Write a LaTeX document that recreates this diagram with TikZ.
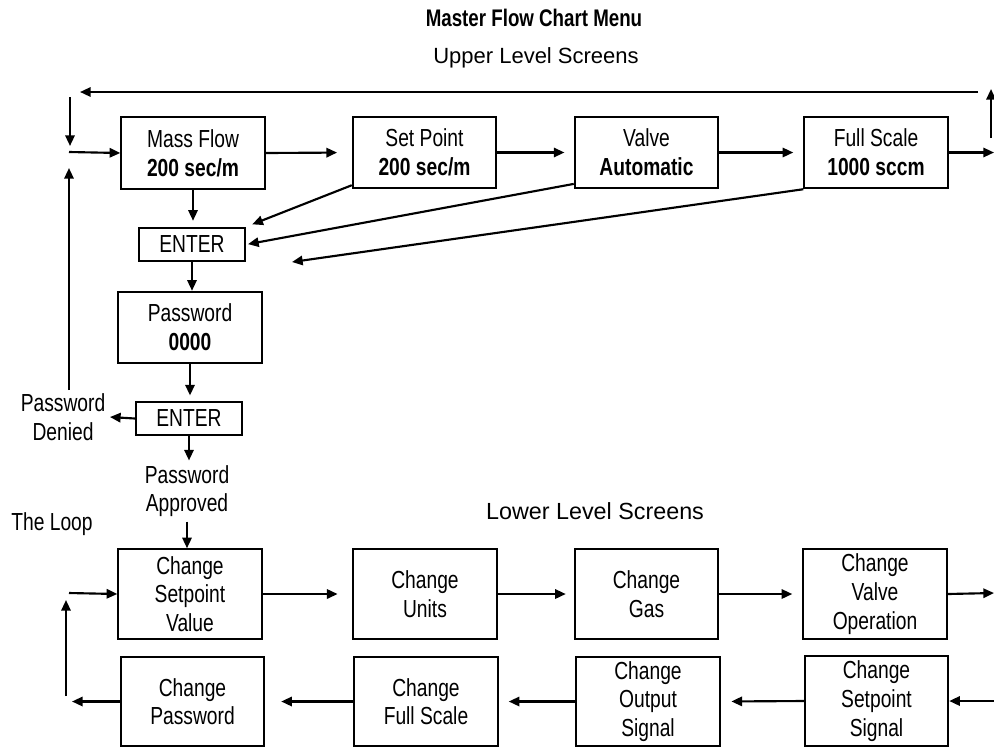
\documentclass[tikz,border=0pt]{standalone}
\usepackage{fontspec}
\setmainfont{Liberation Sans}
\newfontfamily\narrowfont{Liberation Sans}[FakeStretch=0.78]
\usetikzlibrary{arrows.meta}
\newcommand{\boxfont}{\narrowfont\fontsize{18.5}{21.5}\selectfont}
\tikzset{
	box/.style={draw, line width=1.6pt, align=center, inner sep=0pt, minimum width=107.5pt, font=\boxfont},
	upbox/.style={box, minimum height=53.5pt},
	lowbox/.style={box, minimum height=67pt},
	keybox/.style={box, minimum width=79.5pt, minimum height=25pt},
	lbl/.style={align=center, font=\boxfont},
	arr/.style={line width=1.6pt, -{Triangle[length=8pt,width=7pt]}},
	gap/.style={shorten >=#1}
}

\begin{document}
\begin{tikzpicture}[x=0.75pt,y=-0.75pt]
		\useasboundingbox (0,0) rectangle (994,747);
		\node[font=\narrowfont\bfseries\fontsize{18}{20}\selectfont] (title) at (534,18) {Master Flow Chart Menu};
		\node[font=\fontsize{16.5}{20}\selectfont] (uls) at (536,58) {Upper Level Screens};
		\node[font=\fontsize{17.5}{20}\selectfont] (lls) at (595,511) {Lower Level Screens};
		\node[upbox] (mf) at (193,153) {Mass Flow\\\textbf{200 sec/m}};
		\node[upbox] (sp) at (424.5,152.5) {Set Point\\\textbf{200 sec/m}};
		\node[upbox] (va) at (646.5,152.5) {Valve\\\textbf{Automatic}};
		\node[upbox] (fs) at (876,152.5) {Full Scale\\\textbf{1000 sccm}};
		\node[keybox] (e1) at (192,244.5) {ENTER};
		\node[upbox] (pw) at (190,327.5) {Password\\\textbf{0000}};
		\node[keybox] (e2) at (189,418.5) {ENTER};
		\node[lbl] (pd) at (63,417) {Password\\Denied};
		\node[lbl] (pa) at (187,491) {Password\\Approved};
		\node[lbl] (loop) at (52,524) {The Loop};
		\node[lowbox] (csv) at (190,594) {Change\\Setpoint\\Value};
		\node[lowbox] (cu) at (425,594) {Change\\Units};
		\node[lowbox] (cg) at (646.5,594) {Change\\Gas};
		\node[lowbox] (cvo) at (875,594) {Change\\Valve\\Operation};
		\node[lowbox] (cpw) at (192.5,701.5) {Change\\Password};
		\node[lowbox] (cfs) at (426,701.5) {Change\\Full Scale};
		\node[lowbox] (cos) at (648,701.5) {Change\\Output\\Signal};
		\node[lowbox] (css) at (876.5,701) {Change\\Setpoint\\Signal};
		\coordinate (tr) at (978,92);
		\coordinate (tl) at (80,92);
		\coordinate (ru1) at (991,138);
		\coordinate (ru2) at (991,89);
		\coordinate (ld1) at (70,97);
		\coordinate (ld2) at (70,146);
		\coordinate (li) at (69,152);
		\coordinate (lu1) at (69,390);
		\coordinate (lu2) at (69,168);
		\coordinate (fsout) at (994,152.5);
		\coordinate (fsend) at (292,262);
		\coordinate (cvout) at (994,593);
		\coordinate (cssin) at (994,701);
		\coordinate (lb1) at (72,701.5);
		\coordinate (lb2) at (66,696);
		\coordinate (lb3) at (66,600);
		\coordinate (lb4) at (69,593);
		\draw[arr] (tr) -- (tl);
		\draw[arr] (ru1) -- (ru2);
		\draw[arr] (ld1) -- (ld2);
		\draw[arr] (li) -- (mf.west);
		\draw[arr] (lu1) -- (lu2);
		\draw[arr, gap=11pt] (mf.east) -- (sp.west);
		\draw[arr, gap=7pt] (sp.east) -- (va.west);
		\draw[arr, gap=7.5pt] (va.east) -- (fs.west);
		\draw[arr] (fs.east) -- (fsout);
		\draw[arr, gap=4.5pt] (mf.south) -- (mf.south |- e1.north);
		\draw[arr, gap=5pt] ([yshift=3pt]sp.south west) -- (e1.north east);
		\draw[arr, gap=1.5pt] ([yshift=4pt]va.south west) -- (e1.east);
		\draw[arr] (fs.south west) -- (fsend);
		\draw[arr] (e1.south) -- (e1.south |- pw.north);
		\draw[arr, gap=4pt] (pw.south) -- (pw.south |- e2.north);
		\draw[arr] (e2.west) -- (pd.east);
		\draw[arr] (e2.south) -- (e2.south |- pa.north);
		\draw[arr] (pa.south) -- (pa.south |- csv.north);
		\draw[arr, gap=11pt] (csv.east) -- (cu.west);
		\draw[arr, gap=6pt] (cu.east) -- (cg.west);
		\draw[arr, gap=7.5pt] (cg.east) -- (cvo.west);
		\draw[arr] (cvo.east) -- (cvout);
		\draw[arr] (cssin) -- (css.east);
		\draw[arr, gap=8pt] (css.west) -- (cos.east);
		\draw[arr, gap=7.5pt] (cos.west) -- (cfs.east);
		\draw[arr, gap=12pt] (cfs.west) -- (cpw.east);
		\draw[arr] (cpw.west) -- (lb1);
		\draw[arr] (lb2) -- (lb3);
		\draw[arr] (lb4) -- (csv.west);
		\end{tikzpicture}
\end{document}
